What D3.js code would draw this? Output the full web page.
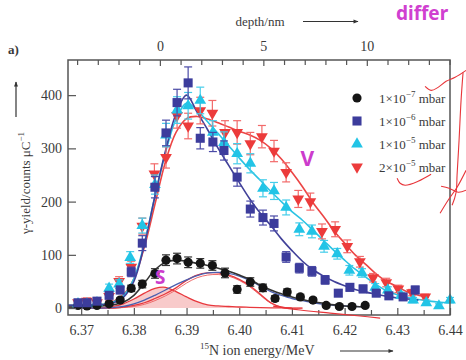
<!DOCTYPE html>
<html><head><meta charset="utf-8">
<script src="https://cdn.jsdelivr.net/npm/d3@7"></script>
<style>body{margin:0;background:#fff}svg{display:block}</style>
</head><body>
<svg id="c" width="466" height="360"></svg>
<script>
// ---------- tick labels ----------
const xTickValues = [6.37,6.38,6.39,6.40,6.41,6.42,6.43,6.44];
const xTickLabels = ["6.37","6.38","6.39","6.40","6.41","6.42","6.43","6.44"];
const xMinorTicks = [6.375,6.385,6.395,6.405,6.415,6.425,6.435];
const yTickValues = [0,100,200,300,400];
const yTickLabels = ["0","100","200","300","400"];
const depthTickValues = [0,5,10];
const depthTickLabels = ["0","5","10"];
const depthMinorTicks = [-4,-3,-2,-1,1,2,3,4,6,7,8,9,11,12,13,14];

// ---------- series (energy / MeV, yield / counts µC^-1, error) ----------
const blackE = [6.3694,6.3711,6.3730,6.3753,6.3774,6.3795,6.3816,6.3840,6.3861,6.3882,6.3903,6.3926,6.3949,6.3973,6.3996,6.4021,6.4045,6.4068,6.4091,6.4116,6.4140,6.4165,6.4190,6.4214,6.4239];
const blackV = [5,4,5,8,15,37,45,65,90,93,86,84,80,66,35,49,38,18,30,21,15,5,3,3,5];
const blackErr = [3,3,3,3,4,6,7,9,10,10,10,9,9,9,7,8,7,5,6,5,4,3,3,3,3];

const blueE = [6.3694,6.3711,6.3730,6.3753,6.3774,6.3795,6.3816,6.3840,6.3861,6.3882,6.3903,6.3926,6.3950,6.3971,6.3996,6.4021,6.4045,6.4066,6.4089,6.4114,6.4138,6.4163,6.4188,6.4210,6.4235,6.4260,6.4284,6.4311,6.4334];
const blueV = [10,10,13,24,34,68,122,227,329,386,423,319,312,296,246,186,170,159,96,75,69,53,28,39,36,28,23,21,34];
const blueErr = [5,5,5,6,7,9,14,20,24,25,30,20,18,18,17,15,14,14,10,9,9,8,6,7,7,6,6,6,7];

const cyanE = [6.3694,6.3711,6.3730,6.3753,6.3772,6.3793,6.3816,6.3840,6.3861,6.3882,6.3903,6.3926,6.3950,6.3971,6.3996,6.4021,6.4045,6.4066,6.4089,6.4114,6.4138,6.4161,6.4186,6.4209,6.4233,6.4258,6.4282,6.4307,6.4330,6.4355,6.4379,6.4400];
const cyanV = [8,8,10,37,45,95,155,232,325,372,380,390,330,311,290,272,225,220,189,148,144,116,102,71,66,39,34,24,15,10,4,15];
const cyanErr = [5,5,5,8,8,11,14,18,22,25,25,25,22,20,19,18,16,16,14,12,12,11,10,9,8,7,6,6,5,5,4,5];

const redE = [6.3694,6.3711,6.3730,6.3753,6.3772,6.3795,6.3816,6.3839,6.3861,6.3882,6.3903,6.3926,6.3949,6.3973,6.3996,6.4021,6.4043,6.4066,6.4089,6.4112,6.4135,6.4157,6.4182,6.4205,6.4229,6.4254,6.4279,6.4302,6.4328,6.4353];
const redV = [10,13,10,22,50,77,154,252,283,362,342,371,366,330,330,309,322,295,255,205,200,144,148,116,87,57,48,36,29,21];
const redErr = [5,6,5,7,9,11,15,19,20,24,24,25,24,22,22,21,21,20,18,16,16,14,14,12,10,8,8,7,6,5];

// ---------- fitted curves (sampled on a common energy grid) ----------
const fitGrid = [6.3675,6.370,6.372,6.374,6.376,6.378,6.380,6.382,6.384,6.386,6.388,6.390,6.392,6.394,6.396,6.398,6.400,6.402,6.404,6.406,6.408,6.410,6.412,6.414,6.416,6.418,6.420,6.422,6.424,6.426,6.428,6.430,6.432,6.434,6.436,6.438,6.440];
const blackFit = [2,2,3,4,6,11,24,47,72,86,90,88,84,80,75,69,62,54,43,34,27,21,16,12,9,6,4,3,2];
const blueFit = [5,5,5,6,9,20,50,120,210,295,365,400,368,335,300,268,236,205,178,155,130,108,88,72,60,50,42,35,30,26,22,19,17,15];
const cyanFit = [5,5,5,7,11,23,55,122,210,292,355,385,372,350,328,305,282,260,240,219,200,181,165,146,127,108,90,73,58,44,32,25,20,16,13,11,10];
const redFit = [5,5,5,7,12,25,55,115,195,275,330,356,360,355,348,340,332,325,315,300,280,255,228,198,172,145,122,100,82,64,50,40,30,24,20];
// components: surface peak (S) and volume contributions
const surfaceComp = [0,0,0,1,3,8,17,28,37,39,31,21,12,6,4,3,2,1.5,1,0.5,0.3,0];
const volumeBlue = [0,0,0,0,1,3,8,15,24,34,44,53,61,66,67,65,60,52,41,31,24,18,14,10,7,5,4,3,2];
const volumeRedA = [0,0,0,0,0,2,5,10,18,27,38,52,62,66,66,62,54,42,26,10,2,0,0];
const volumeRedB = [0,0,0,0,0,1,3,7,14,23,34,47,57,62,63,60,52,40,24,9,2,0,0];

// legend
const legendBase = ["1×10","1×10","1×10","2×10"];
const legendExp = ["−7","−6","−5","−5"];
const legendUnit = "mbar";

// hand-drawn annotations (in data units)
const annS = {e:6.3850, v:58, t:"S"};
const annV = {e:6.4129, v:281, t:"V"};
const penStrokes = [
  [[6.43527,416.5],[6.43641,409.0],[6.43774,414.6],[6.43926,425.9],[6.44097,433.4],[6.44305,446.5]],
  [[6.44248,442.7],[6.44210,390.2],[6.44172,315.2],[6.44134,249.5],[6.44116,217.6],[6.44040,193.2]],
  [[6.43831,228.9],[6.43983,225.1],[6.44154,217.6],[6.44305,221.4]],
  [[6.43812,178.2],[6.43964,202.6],[6.44134,227.0],[6.44305,258.9]],
  [[6.42996,243.9],[6.43053,234.5],[6.43148,230.7],[6.43395,238.2],[6.43641,251.4]],
  [[6.40643,3.75],[6.41156,-3.75],[6.41725,-9.4],[6.42294,-15.0],[6.42674,-18.8]]
];

// ---------- drawing ----------
const svg = d3.select("#c");
const L=68, R=450, T=60, B=315;
const x = d3.scaleLinear().domain([6.3675,6.44]).range([L,R]);
const y = d3.scaleLinear().domain([-13,466]).range([B,T]);
const xd = d3.scaleLinear().domain([-4.44,14.02]).range([L,R]);
const serif = "'Liberation Serif','Times New Roman',serif";
const txt = "#3a3a3a", axc = "#555";
const magenta = "#cc3ccc";

const defs = svg.append("defs");
defs.append("clipPath").attr("id","clip").append("rect")
  .attr("x",L).attr("y",T).attr("width",R-L).attr("height",B-T);
defs.append("marker").attr("id","ah").attr("viewBox","0 0 10 10").attr("refX",9).attr("refY",5)
  .attr("markerWidth",7).attr("markerHeight",5).attr("markerUnits","userSpaceOnUse").attr("orient","auto")
  .append("path").attr("d","M0,1 L10,5 L0,9 Z").attr("fill","#333");

// components
const plot = svg.append("g").attr("clip-path","url(#clip)");
const lineOn = (vals, curve) => d3.line().x((d,i)=>x(fitGrid[i])).y(d=>y(d)).curve(curve || d3.curveCatmullRom.alpha(0.5))(vals);
const areaS = d3.area().x((d,i)=>x(fitGrid[i])).y0(y(0)).y1(d=>y(d)).curve(d3.curveCatmullRom.alpha(0.5));
plot.append("path").attr("d",areaS(surfaceComp)).attr("fill","#f5b8b8").attr("opacity",0.75);
plot.append("path").attr("d",lineOn(surfaceComp)).attr("fill","none").attr("stroke","#e8383d").attr("stroke-width",1.3);
plot.append("path").attr("d",lineOn(volumeRedB)).attr("fill","none").attr("stroke","#ef6a6a").attr("stroke-width",1);
plot.append("path").attr("d",lineOn(volumeRedA)).attr("fill","none").attr("stroke","#e8383d").attr("stroke-width",1.3);
plot.append("path").attr("d",lineOn(volumeBlue)).attr("fill","none").attr("stroke","#4a5fb0").attr("stroke-width",1.3);

// fit curves
const fits = [[redFit,"#ec4545"],[cyanFit,"#2bc3e3"],[blueFit,"#414199"],[blackFit,"#333"]];
fits.forEach(([f,c])=>plot.append("path").attr("d",lineOn(f)).attr("fill","none").attr("stroke",c).attr("stroke-width",1.6));

// series
function drawSeries(E,V,Err,sym,rot,size,fill,barCol){
  const g = svg.append("g");
  E.forEach((e,i)=>{
    const cx=x(e), y1=y(V[i]-Err[i]), y2=y(V[i]+Err[i]);
    g.append("line").attr("x1",cx).attr("x2",cx).attr("y1",y1).attr("y2",y2).attr("stroke",barCol).attr("stroke-width",1.2);
    [y1,y2].forEach(yy=>g.append("line").attr("x1",cx-4).attr("x2",cx+4).attr("y1",yy).attr("y2",yy).attr("stroke",barCol).attr("stroke-width",1.2));
  });
  g.selectAll("path.m").data(E).join("path").attr("class","m")
    .attr("d",d3.symbol().type(sym).size(size))
    .attr("transform",(e,i)=>`translate(${x(e)},${y(V[i])}) rotate(${rot})`)
    .attr("fill",fill);
}
drawSeries(redE,redV,redErr,d3.symbolTriangle,180,60,"#ec3b3b","#f26a6a");
drawSeries(cyanE,cyanV,cyanErr,d3.symbolTriangle,0,60,"#22c4e6","#45cdea");
drawSeries(blackE,blackV,blackErr,d3.symbolCircle,0,66,"#151515","#333");
drawSeries(blueE,blueV,blueErr,d3.symbolSquare,0,82,"#3c3c9c","#4a4aa6");

// axes
function styleAxis(g){
  g.select(".domain").remove();
  g.selectAll(".tick line").attr("stroke",axc).attr("stroke-width",1.2);
  g.selectAll("text").attr("font-family",serif).attr("font-size",14).attr("fill",txt);
}
svg.append("g").attr("transform",`translate(0,${B})`)
  .call(d3.axisBottom(x).tickValues(xTickValues).tickSizeInner(-7).tickSizeOuter(0).tickPadding(10)
    .tickFormat((d,i)=>xTickLabels[i])).call(styleAxis);
svg.append("g").attr("transform",`translate(0,${B})`)
  .call(d3.axisBottom(x).tickValues(xMinorTicks).tickSizeInner(-5).tickSizeOuter(0).tickFormat(()=>""))
  .call(styleAxis);
svg.append("g").attr("transform",`translate(${L},0)`)
  .call(d3.axisLeft(y).tickValues(yTickValues).tickSizeInner(-8).tickSizeOuter(0).tickPadding(6)
    .tickFormat((d,i)=>yTickLabels[i])).call(styleAxis);
svg.append("g").attr("transform",`translate(0,${T})`)
  .call(d3.axisTop(xd).tickValues(depthTickValues).tickSizeInner(-6).tickSizeOuter(0).tickPadding(9)
    .tickFormat((d,i)=>depthTickLabels[i])).call(styleAxis);
svg.append("g").attr("transform",`translate(0,${T})`)
  .call(d3.axisTop(xd).tickValues(depthMinorTicks).tickSizeInner(-5).tickSizeOuter(0).tickFormat(()=>""))
  .call(styleAxis);
svg.append("rect").attr("x",L).attr("y",T).attr("width",R-L).attr("height",B-T)
  .attr("fill","none").attr("stroke",axc).attr("stroke-width",1.5);

// axis titles
const xt = svg.append("text").attr("x",200).attr("y",355).attr("font-family",serif).attr("font-size",14).attr("fill",txt);
xt.append("tspan").text("15").attr("font-size",9).attr("dy",-6);
xt.append("tspan").text("N ion energy/MeV").attr("dy",6);
svg.append("line").attr("x1",340).attr("x2",393).attr("y1",351).attr("y2",351).attr("stroke","#333").attr("stroke-width",1.2).attr("marker-end","url(#ah)");

svg.append("text").attr("x",260).attr("y",26).attr("text-anchor","middle").attr("font-family",serif).attr("font-size",13).attr("fill",txt).text("depth/nm");
svg.append("line").attr("x1",303).attr("x2",358).attr("y1",21.5).attr("y2",21.5).attr("stroke","#333").attr("stroke-width",1.2).attr("marker-end","url(#ah)");

svg.append("text").attr("x",8).attr("y",54).attr("font-family",serif).attr("font-weight","bold").attr("font-size",13).attr("fill",txt).text("a)");

const yt = svg.append("text").attr("transform","translate(30,183) rotate(-90)").attr("text-anchor","middle")
  .attr("font-family",serif).attr("font-size",13).attr("fill",txt);
yt.append("tspan").text("γ-yield/counts μC");
yt.append("tspan").text("−1").attr("font-size",9).attr("dy",-6);
svg.append("line").attr("x1",16).attr("x2",16).attr("y1",117).attr("y2",82).attr("stroke","#333").attr("stroke-width",1.2).attr("marker-end","url(#ah)");

// legend
const lg = svg.append("g").attr("transform","translate(357,98)");
const legSyms = [[d3.symbolCircle,0,66,"#151515"],[d3.symbolSquare,0,82,"#3c3c9c"],[d3.symbolTriangle,0,60,"#22c4e6"],[d3.symbolTriangle,180,60,"#ec3b3b"]];
legendBase.forEach((b,i)=>{
  const yy = i*23;
  const s = legSyms[i];
  lg.append("path").attr("d",d3.symbol().type(s[0]).size(s[2])()).attr("transform",`translate(0,${yy}) rotate(${s[1]})`).attr("fill",s[3]);
  const t = lg.append("text").attr("x",22).attr("y",yy+5).attr("font-family",serif).attr("font-size",13).attr("fill",txt);
  t.append("tspan").text(b);
  t.append("tspan").text(legendExp[i]).attr("font-size",9).attr("dy",-6);
  t.append("tspan").text(" "+legendUnit).attr("dy",6);
});

// annotations
svg.append("text").attr("x",x(annS.e)).attr("y",y(annS.v)).attr("text-anchor","middle").attr("dominant-baseline","central")
  .attr("font-family","'Noto Sans',sans-serif").attr("font-weight","bold").attr("font-size",19).attr("fill",magenta).text(annS.t);
svg.append("text").attr("x",x(annV.e)).attr("y",y(annV.v)).attr("text-anchor","middle").attr("dominant-baseline","central")
  .attr("font-family","'Noto Sans',sans-serif").attr("font-weight","bold").attr("font-size",21).attr("fill",magenta).text(annV.t);
svg.append("text").attr("x",396).attr("y",20).attr("font-family","'Noto Sans',sans-serif").attr("font-weight","bold").attr("font-size",19).attr("fill","#d040d0").text("differ");
const pen = d3.line().x(d=>x(d[0])).y(d=>y(d[1])).curve(d3.curveCatmullRom);
penStrokes.forEach(s=>svg.append("path").attr("d",pen(s)).attr("fill","none").attr("stroke","#e8353a").attr("stroke-width",1.1));
</script>
</body></html>
